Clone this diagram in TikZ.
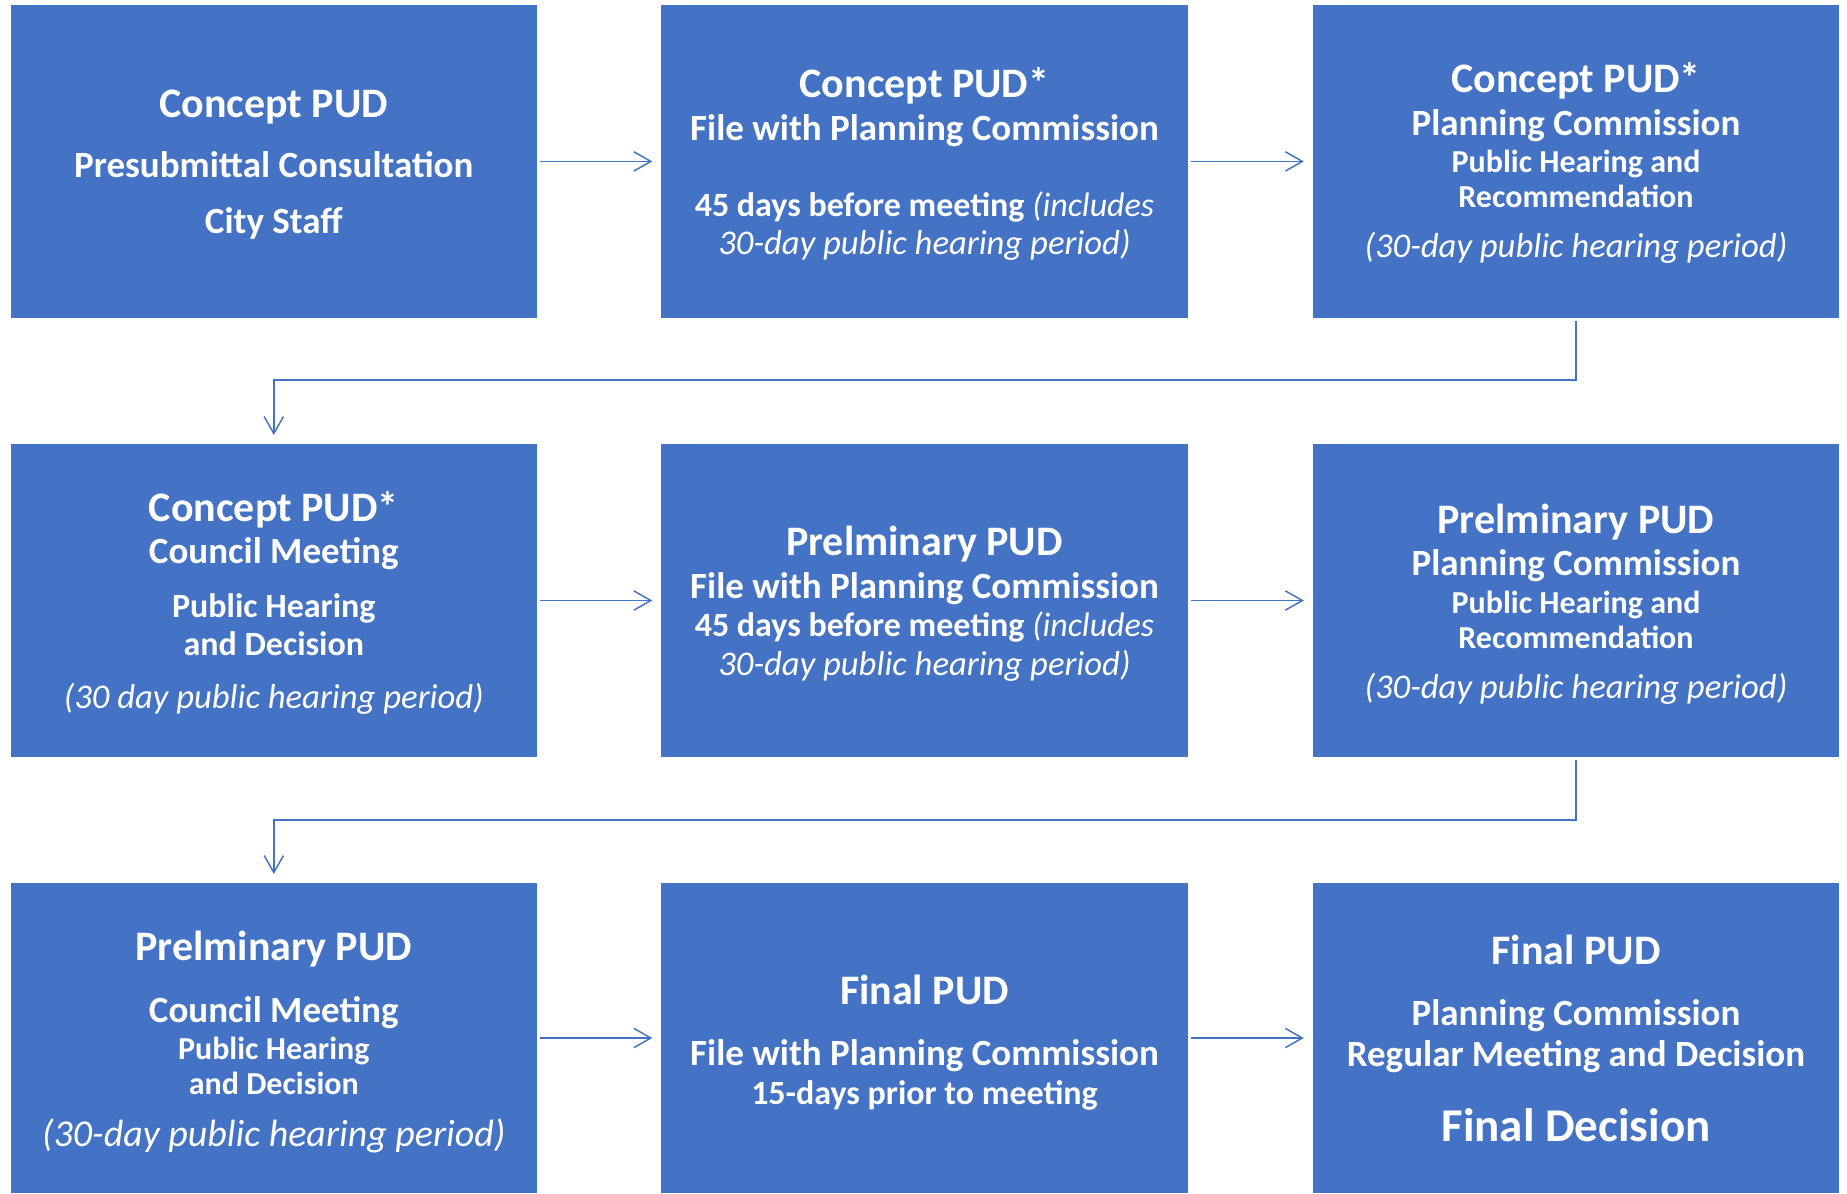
\documentclass[tikz,border=0pt]{standalone}
\usepackage{fontspec}
\setmainfont{Carlito}
\usetikzlibrary{arrows.meta}
\definecolor{boxblue}{HTML}{4472C4}
\newcommand\szT{\fontsize{31.5}{36}\selectfont\bfseries}
\newcommand\szS{\fontsize{27.75}{32}\selectfont\bfseries}
\newcommand\szM{\fontsize{24}{28}\selectfont\bfseries}
\newcommand\szMM{\fontsize{25.5}{30}\selectfont\bfseries}
\newcommand\szI{\fontsize{26}{30}\selectfont\mdseries\itshape}
\newcommand\szII{\fontsize{28.5}{32}\selectfont\mdseries\itshape}
\newcommand\szF{\fontsize{35.25}{40}\selectfont\bfseries}
\begin{document}
\begin{tikzpicture}[x=0.75pt,y=-0.75pt,
  box/.style={rectangle, fill=boxblue, inner sep=0pt, outer sep=0pt,
    minimum width=394.8pt, minimum height=234.75pt},
  lastbox/.style={box, minimum height=232.5pt},
  txt/.style={anchor=base, text=white, inner sep=0pt, yshift=-1.6pt},
  conn/.style={draw=boxblue, line width=1.1pt,
    -{Straight Barb[length=12.75pt, width=14.5pt, line width=1.1pt]},
    shorten <=2.25pt, shorten >=6.75pt}]
\useasboundingbox (0,0) rectangle (1847,1193);
\fill[white] (0,0) rectangle (1847,1193);

% boxes
\node[box] (b1) at (273.8,161.4) {};
\node[box] (b2) at (924.5,161.4) {};
\node[box] (b3) at (1576,161.4) {};
\node[box] (b4) at (273.8,600.5) {};
\node[box] (b5) at (924.5,600.5) {};
\node[box] (b6) at (1576,600.5) {};
\node[lastbox] (b7) at (273.8,1038) {};
\node[lastbox] (b8) at (924.5,1038) {};
\node[lastbox] (b9) at (1576,1038) {};

% box 1
\node[txt, font=\szT] (t1a) at (273.8,115) {Concept PUD};
\node[txt, font=\szS] (t1b) at (273.8,175) {Presubmittal Consultation};
\node[txt, font=\szS] (t1c) at (273.8,231) {City Staff};

% box 2
\node[txt, font=\szT] (t2a) at (924.5,95) {Concept PUD*};
\node[txt, font=\szS] (t2b) at (924.5,138) {File with Planning Commission};
\node[txt, font=\szMM] (t2c) at (924.5,214) {45 days before meeting {\mdseries\itshape (includes}};
\node[txt, font=\szI] (t2d) at (924.5,252) {30-day public hearing period)};

% box 3
\node[txt, font=\szT] (t3a) at (1576,90) {Concept PUD*};
\node[txt, font=\szS] (t3b) at (1576,133.5) {Planning Commission};
\node[txt, font=\szM] (t3c) at (1576,170) {Public Hearing and};
\node[txt, font=\szM] (t3d) at (1576,205.5) {Recommendation};
\node[txt, font=\szI] (t3e) at (1576,255) {(30-day public hearing period)};

% box 4
\node[txt, font=\szT] (t4a) at (273.8,519) {Concept PUD*};
\node[txt, font=\szS] (t4b) at (273.8,561) {Council Meeting};
\node[txt, font=\szMM] (t4c) at (273.8,615.5) {Public Hearing};
\node[txt, font=\szMM] (t4d) at (273.8,653) {and Decision};
\node[txt, font=\szI] (t4e) at (273.8,706) {(30 day public hearing period)};

% box 5
\node[txt, font=\szT] (t5a) at (924.5,553) {Prelminary PUD};
\node[txt, font=\szS] (t5b) at (924.5,596.5) {File with Planning Commission};
\node[txt, font=\szMM] (t5c) at (924.5,634.5) {45 days before meeting {\mdseries\itshape (includes}};
\node[txt, font=\szI] (t5d) at (924.5,673.5) {30-day public hearing period)};

% box 6
\node[txt, font=\szT] (t6a) at (1576,531) {Prelminary PUD};
\node[txt, font=\szS] (t6b) at (1576,573) {Planning Commission};
\node[txt, font=\szM] (t6c) at (1576,611) {Public Hearing and};
\node[txt, font=\szM] (t6d) at (1576,646) {Recommendation};
\node[txt, font=\szI] (t6e) at (1576,696) {(30-day public hearing period)};

% box 7
\node[txt, font=\szT] (t7a) at (273.8,958.5) {Prelminary PUD};
\node[txt, font=\szS] (t7b) at (273.8,1020.5) {Council Meeting};
\node[txt, font=\szM] (t7c) at (273.8,1057) {Public Hearing};
\node[txt, font=\szM] (t7d) at (273.8,1092.5) {and Decision};
\node[txt, font=\szII] (t7e) at (273.8,1144.5) {(30-day public hearing period)};

% box 8
\node[txt, font=\szT] (t8a) at (924.5,1002) {Final PUD};
\node[txt, font=\szS] (t8b) at (924.5,1063) {File with Planning Commission};
\node[txt, font=\szMM] (t8c) at (924.5,1102) {15-days prior to meeting};

% box 9
\node[txt, font=\szT] (t9a) at (1576,962) {Final PUD};
\node[txt, font=\szS] (t9b) at (1576,1023) {Planning Commission};
\node[txt, font=\szS] (t9c) at (1576,1064) {Regular Meeting and Decision};
\node[txt, font=\szF] (t9d) at (1576,1139) {Final Decision};

% connectors
\coordinate (m1) at (0,380);
\coordinate (m2) at (0,820);
\draw[conn] (b1.east) -- (b2.west);
\draw[conn] (b2.east) -- (b3.west);
\draw[conn] (b3.south) -- (b3.south |- m1) -| (b4.north);
\draw[conn] (b4.east) -- (b5.west);
\draw[conn] (b5.east) -- (b6.west);
\draw[conn] (b6.south) -- (b6.south |- m2) -| (b7.north);
\draw[conn] (b7.east) -- (b8.west);
\draw[conn] (b8.east) -- (b9.west);
\end{tikzpicture}
\end{document}
